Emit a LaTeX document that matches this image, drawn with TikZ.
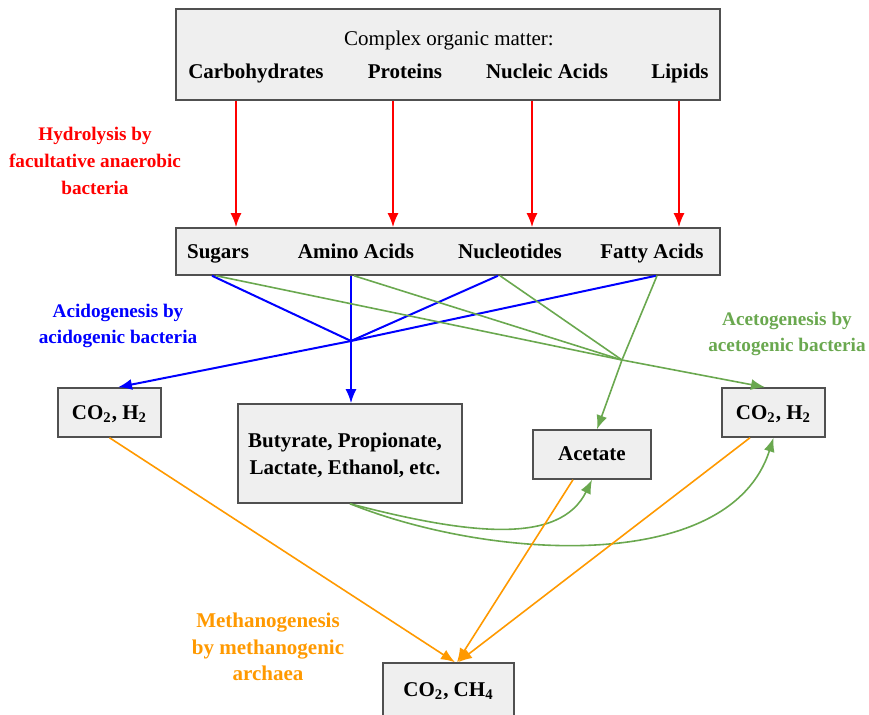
\documentclass[tikz,border=0pt]{standalone}
\usepackage{fontspec}
\setmainfont{Liberation Serif}
\usetikzlibrary{arrows.meta}
\definecolor{hydcol}{RGB}{255,0,0}
\definecolor{acicol}{RGB}{0,0,255}
\definecolor{acecol}{RGB}{106,168,79}
\definecolor{metcol}{RGB}{255,153,0}
\definecolor{boxfill}{RGB}{239,239,239}
\definecolor{boxline}{RGB}{80,80,80}

\tikzset{
  box/.style={draw=boxline, fill=boxfill, line width=0.75pt, rectangle, inner sep=0pt},
  wordfont/.style={font=\fontsize{10.5}{13.5}\selectfont\bfseries, inner sep=1pt},
  word/.style={wordfont, text height=7.4pt, text depth=2.2pt},
  stage/.style={font=\fontsize{9.6}{13.3}\selectfont\bfseries, align=center},
  tip/.style={-{Latex[length=7pt,width=5.5pt]}},
  hyd/.style={hydcol, line width=1pt, tip},
  aci/.style={acicol, line width=1pt},
  ace/.style={acecol, line width=0.8pt},
  met/.style={metcol, line width=0.8pt, tip}
}

\begin{document}
\begin{tikzpicture}[x=0.5pt,y=-0.5pt]
\useasboundingbox (0,0) rectangle (869,715);
\clip (0,0) rectangle (869,715);

% boxes
\node[box, minimum width=272pt, minimum height=45.5pt] (top) at (448,54.5) {};
\node[box, minimum width=272pt, minimum height=23.5pt] (mid) at (448,251.5) {};
\node[box, minimum width=51.5pt, minimum height=24.5pt] (co2a) at (109.5,412.5) {};
\node[box, minimum width=112pt, minimum height=49.5pt] (but) at (350,453.5) {};
\node[box, minimum width=59pt, minimum height=24.5pt] (acet) at (592,454.5) {};
\node[box, minimum width=51.5pt, minimum height=24.5pt] (co2b) at (773.5,412.5) {};
\node[box, minimum width=65.5pt, minimum height=37pt] (ch4) at (448.5,700) {};

% texts
\node[word, font=\fontsize{10.5}{13.5}\selectfont] (cmplx) at (449,40) {Complex organic matter:};
\node[word] (carb) at (256,73) {Carbohydrates};
\node[word] (prot) at (405,73) {Proteins};
\node[word] (nucl) at (547,73) {Nucleic Acids};
\node[word] (lipi) at (680,73) {Lipids};

\node[word] (sug) at (218,253) {Sugars};
\node[word] (amin) at (356,253) {Amino Acids};
\node[word] (nuct) at (510,253) {Nucleotides};
\node[word] (fatt) at (652,253) {Fatty Acids};

\node[word] (co2at) at (109.5,414) {CO\textsubscript{2}, H\textsubscript{2}};
\node[wordfont, align=center] (butt) at (345,455) {Butyrate, Propionate,\\Lactate, Ethanol, etc.};
\node[word] (acett) at (592,455) {Acetate};
\node[word] (co2bt) at (773.5,414) {CO\textsubscript{2}, H\textsubscript{2}};
\node[word] (ch4t) at (448.5,691) {CO\textsubscript{2}, CH\textsubscript{4}};

\node[stage, hydcol] (hydl) at (95,161) {Hydrolysis by\\facultative anaerobic\\bacteria};
\node[stage, acicol] (acil) at (118,326) {Acidogenesis by\\acidogenic bacteria};
\node[stage, acecol] (acel) at (787,334) {Acetogenesis by\\acetogenic bacteria};
\node[stage, metcol, font=\fontsize{10.5}{13.3}\selectfont\bfseries] (metl) at (268,647) {Methanogenesis\\by methanogenic\\archaea};

% hydrolysis
\draw[hyd] (top.south -| 236,0) -- (mid.north -| 236,0);
\draw[hyd] (top.south -| 393,0) -- (mid.north -| 393,0);
\draw[hyd] (top.south -| 532,0) -- (mid.north -| 532,0);
\draw[hyd] (top.south -| 679,0) -- (mid.north -| 679,0);

% acidogenesis
\coordinate (acj) at (351,341);
\draw[aci] (mid.south -| 212,0) -- (acj);
\draw[aci] (mid.south -| 351,0) -- (acj);
\draw[aci] (mid.south -| 498,0) -- (acj);
\draw[aci] (mid.south -| 656,0) -- (acj);
\draw[aci,tip] (acj) -- (co2a.north -| 118,0);
\draw[aci,tip] (acj) -- (acj |- but.north);

% acetogenesis
\coordinate (atj) at (622,360);
\draw[ace] (mid.south -| 216,0) -- (atj);
\draw[ace] (mid.south -| 354,0) -- (atj);
\draw[ace] (mid.south -| 500,0) -- (atj);
\draw[ace] (mid.south -| 657,0) -- (atj);
\draw[ace,tip] (atj) -- (acet.north -| 597,0);
\draw[ace,tip] (atj) -- (co2b.north -| 765,0);
\draw[ace,tip] (but.south) .. controls (470,535) and (560,545) .. (acet.south);
\draw[ace,tip] (but.south) .. controls (490,560) and (730,575) .. (co2b.south);

% methanogenesis
\draw[met] (co2a.south) -- (ch4.north -| 455,0);
\draw[met] (acet.south -| 573,0) -- (ch4.north -| 457,0);
\draw[met] (co2b.south -| 750,0) -- (ch4.north -| 458,0);

\end{tikzpicture}
\end{document}
